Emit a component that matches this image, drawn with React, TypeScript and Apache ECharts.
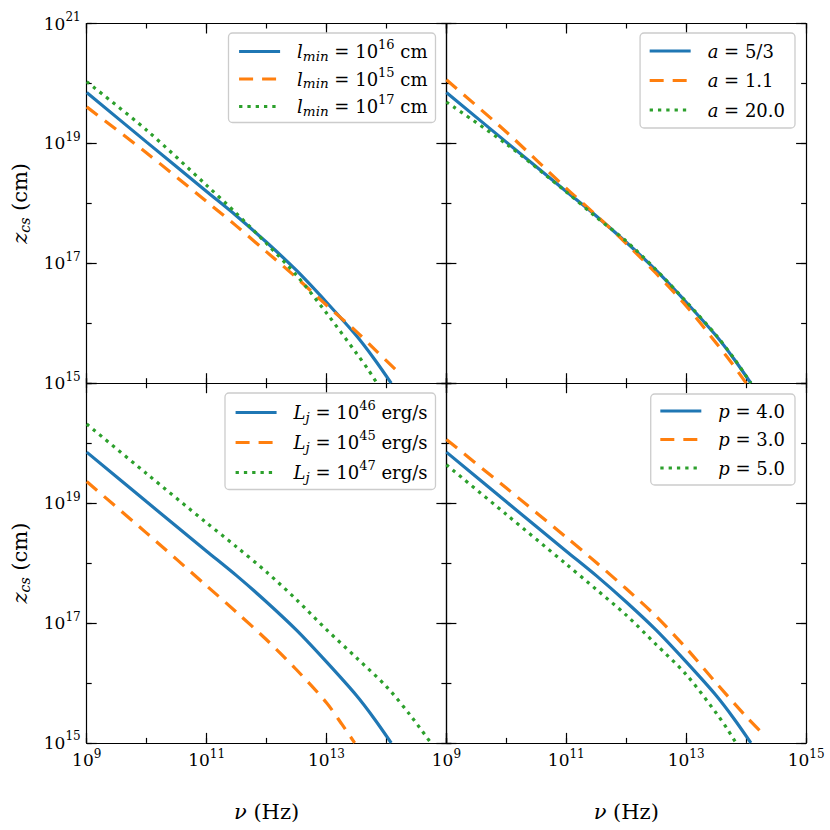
import React, { useEffect, useRef } from "react";
import * as echarts from "echarts";

// ---- axis ranges ----
const NU_MIN = 1e9;
const NU_MAX = 1e15;
const Z_MIN = 1e15;
const Z_MAX = 1e21;

// ---- tick label exponents ----
const xLabelExpLeft = [9, 11, 13];
const xLabelExpRight = [9, 11, 13, 15];
const yLabelExpTop = [15, 17, 19, 21];
const yLabelExpBottom = [15, 17, 19];

// ---- fiducial curve (blue, same in every panel) ----
const nuFid = [1e9, 1e10, 1e11, 3.16e11, 1e12, 3.16e12, 1e13, 3.16e13, 6.31e13, 1.2e14];
const zFid = [7.08e19, 1.05e19, 1.58e18, 6.17e17, 2.24e17, 7.59e16, 2.24e16, 6.17e15, 2.51e15, 1.0e15];

// ---- panel (a): l_min ----
const nuLmin15 = [1e9, 1e10, 1e11, 3.16e11, 1e12, 3.16e12, 1e13, 3.16e13, 7.08e13, 1.55e14];
const zLmin15 = [4.07e19, 6.92e18, 1.07e18, 4.17e17, 1.55e17, 5.75e16, 2.0e16, 7.24e15, 3.31e15, 1.55e15];
const nuLmin17 = [1e9, 1e10, 1e11, 3.16e11, 1e12, 3.16e12, 1e13, 3.16e13, 5.01e13, 6.92e13];
const zLmin17 = [1.07e20, 1.66e19, 2.0e18, 6.76e17, 2.14e17, 6.31e16, 1.48e16, 3.16e15, 1.66e15, 1.0e15];

// ---- panel (b): a ----
const nuA11 = [1e9, 1e10, 1e11, 3.16e11, 1e12, 3.16e12, 1e13, 3.16e13, 5.62e13, 1e14];
const zA11 = [1.15e20, 1.55e19, 1.78e18, 6.31e17, 2.14e17, 6.76e16, 1.95e16, 4.68e15, 2.24e15, 1.0e15];
const nuA20 = [1e9, 1e10, 1e11, 3.16e11, 1e12, 3.16e12, 1e13, 3.16e13, 6.31e13, 1.2e14];
const zA20 = [4.9e19, 9.77e18, 1.55e18, 5.89e17, 2.34e17, 7.76e16, 2.29e16, 6.31e15, 2.57e15, 1.0e15];

// ---- panel (c): L_j ----
const nuL45 = [1e9, 1e10, 1e11, 3.16e11, 1e12, 3.16e12, 1e13, 1.78e13, 2.95e13];
const zL45 = [2.29e19, 3.16e18, 4.17e17, 1.51e17, 5.25e16, 1.66e16, 4.68e15, 2.09e15, 1.0e15];
const nuL47 = [1e9, 1e10, 1e11, 3.16e11, 1e12, 3.16e12, 1e13, 3.16e13, 1e14, 2.51e14, 5.5e14];
const zL47 = [2.09e20, 3.09e19, 4.68e18, 1.86e18, 7.08e17, 2.45e17, 7.76e16, 2.63e16, 8.71e15, 2.88e15, 1.0e15];

// ---- panel (d): p ----
const nuP3 = [1e9, 1e10, 1e11, 3.16e11, 1e12, 3.16e12, 1e13, 3.16e13, 1e14, 2.0e14];
const zP3 = [1.15e20, 1.78e19, 2.69e18, 1.02e18, 3.72e17, 1.29e17, 3.8e16, 1.0e16, 2.75e15, 1.35e15];
const nuP5 = [1e9, 1e10, 1e11, 3.16e11, 1e12, 3.16e12, 1e13, 3.16e13, 5.01e13, 6.76e13];
const zP5 = [4.37e19, 6.46e18, 9.55e17, 3.63e17, 1.35e17, 4.37e16, 1.38e16, 3.16e15, 1.62e15, 1.0e15];

const COLORS = ["#1f77b4", "#ff7f0e", "#2ca02c"];
const DASHES: any[] = ["solid", [14, 9], [3.3, 5]];
const FONT = "DejaVu Serif";

const zip = (a: number[], b: number[]) => a.map((v, i) => [v, b[i]]);

const panels = [
  {
    left: 86.7,
    top: 23.5,
    xLabels: [] as number[],
    yLabels: yLabelExpTop,
    legend: { right: 394.5, top: 33, gap: 3, pad: [5, 8, 5, 9] },
    series: [
      { name: "lmin16", label: "{it|l}{sub|min}{n| = 10}{sup|16}{n| cm}", nu: nuFid, z: zFid },
      { name: "lmin15", label: "{it|l}{sub|min}{n| = 10}{sup|15}{n| cm}", nu: nuLmin15, z: zLmin15 },
      { name: "lmin17", label: "{it|l}{sub|min}{n| = 10}{sup|17}{n| cm}", nu: nuLmin17, z: zLmin17 },
    ],
  },
  {
    left: 446.4,
    top: 23.5,
    xLabels: [] as number[],
    yLabels: [] as number[],
    legend: { right: 35, top: 33, gap: 11.5, pad: [9, 10, 9, 8] },
    series: [
      { name: "a53", label: "{it|a}{n| = 5/3}", nu: nuFid, z: zFid },
      { name: "a11", label: "{it|a}{n| = 1.1}", nu: nuA11, z: zA11 },
      { name: "a20", label: "{it|a}{n| = 20.0}", nu: nuA20, z: zA20 },
    ],
  },
  {
    left: 86.7,
    top: 383.2,
    xLabels: xLabelExpLeft,
    yLabels: yLabelExpBottom,
    legend: { right: 394.5, top: 393, gap: 5.5, pad: [6, 8, 6, 9] },
    series: [
      { name: "L46", label: "{it|L}{sub|j}{n| = 10}{sup|46}{n| erg/s}", nu: nuFid, z: zFid },
      { name: "L45", label: "{it|L}{sub|j}{n| = 10}{sup|45}{n| erg/s}", nu: nuL45, z: zL45 },
      { name: "L47", label: "{it|L}{sub|j}{n| = 10}{sup|47}{n| erg/s}", nu: nuL47, z: zL47 },
    ],
  },
  {
    left: 446.4,
    top: 383.2,
    xLabels: xLabelExpRight,
    yLabels: [] as number[],
    legend: { right: 35, top: 394, gap: 10.5, pad: [8, 10, 8, 8] },
    series: [
      { name: "p4", label: "{it|p}{n| = 4.0}", nu: nuFid, z: zFid },
      { name: "p3", label: "{it|p}{n| = 3.0}", nu: nuP3, z: zP3 },
      { name: "p5", label: "{it|p}{n| = 5.0}", nu: nuP5, z: zP5 },
    ],
  },
];

const GW = 359.7;
const GH = 359.7;

const lineSt = { color: "#000", width: 1.2 };
const tickRich = {
  b: { fontSize: 17, fontFamily: FONT, color: "#000" },
  s: { fontSize: 12, fontFamily: FONT, color: "#000", padding: [0, 0, 13, 0] },
};
const textRich = {
  it: { fontSize: 18, fontFamily: FONT, fontStyle: "italic", color: "#000" },
  n: { fontSize: 18, fontFamily: FONT, color: "#000" },
  sub: { fontSize: 13.5, fontFamily: FONT, fontStyle: "italic", color: "#000", padding: [8, 0, 0, 0] },
  sup: { fontSize: 13, fontFamily: FONT, color: "#000", padding: [0, 0, 14, 0] },
};

function expFormatter(allowed: number[]) {
  return (v: number) => {
    const e = Math.round(Math.log10(v));
    return allowed.indexOf(e) >= 0 ? `{b|10}{s|${e}}` : "";
  };
}

function buildOption() {
  const grid: any[] = [];
  const xAxis: any[] = [];
  const yAxis: any[] = [];
  const series: any[] = [];
  const legend: any[] = [];
  const labelMap: Record<string, string> = {};

  panels.forEach((p, g) => {
    grid.push({ left: p.left, top: p.top, width: GW, height: GH, containLabel: false, outerBoundsMode: "none" });

    const common = { gridIndex: g, splitLine: { show: false }, minorTick: { show: false }, minorSplitLine: { show: false } };
    xAxis.push({
      ...common,
      type: "log",
      logBase: 10,
      position: "bottom",
      min: NU_MIN,
      max: NU_MAX,
      splitNumber: 6,
      axisLine: { show: true, onZero: false, lineStyle: lineSt },
      axisTick: { show: true, inside: true, length: 5, lineStyle: lineSt },
      axisLabel: {
        show: p.xLabels.length > 0,
        margin: 5,
        showMinLabel: true,
        showMaxLabel: true,
        fontFamily: FONT,
        formatter: expFormatter(p.xLabels),
        rich: tickRich,
      },
    });
    xAxis.push({
      ...common,
      type: "value",
      position: "bottom",
      min: 0,
      max: 6,
      interval: 2,
      axisLine: { show: false, onZero: false },
      axisTick: { show: true, inside: true, length: 10, lineStyle: lineSt },
      axisLabel: { show: false },
    });
    xAxis.push({
      ...common,
      type: "value",
      position: "top",
      min: 0,
      max: 6,
      interval: 1,
      axisLine: { show: true, onZero: false, lineStyle: lineSt },
      axisTick: { show: true, inside: true, length: 5, lineStyle: lineSt },
      axisLabel: { show: false },
    });
    xAxis.push({
      ...common,
      type: "value",
      position: "top",
      min: 0,
      max: 6,
      interval: 2,
      axisLine: { show: false, onZero: false },
      axisTick: { show: true, inside: true, length: 10, lineStyle: lineSt },
      axisLabel: { show: false },
    });
    yAxis.push({
      ...common,
      type: "log",
      logBase: 10,
      position: "left",
      min: Z_MIN,
      max: Z_MAX,
      splitNumber: 6,
      axisLine: { show: true, onZero: false, lineStyle: lineSt },
      axisTick: { show: true, inside: true, length: 5, lineStyle: lineSt },
      axisLabel: {
        show: p.yLabels.length > 0,
        margin: 6,
        showMinLabel: true,
        showMaxLabel: true,
        fontFamily: FONT,
        formatter: expFormatter(p.yLabels),
        rich: tickRich,
      },
    });
    yAxis.push({
      ...common,
      type: "value",
      position: "left",
      min: 0,
      max: 6,
      interval: 2,
      axisLine: { show: false, onZero: false },
      axisTick: { show: true, inside: true, length: 10, lineStyle: lineSt },
      axisLabel: { show: false },
    });
    yAxis.push({
      ...common,
      type: "value",
      position: "right",
      min: 0,
      max: 6,
      interval: 1,
      axisLine: { show: true, onZero: false, lineStyle: lineSt },
      axisTick: { show: true, inside: true, length: 5, lineStyle: lineSt },
      axisLabel: { show: false },
    });
    yAxis.push({
      ...common,
      type: "value",
      position: "right",
      min: 0,
      max: 6,
      interval: 2,
      axisLine: { show: false, onZero: false },
      axisTick: { show: true, inside: true, length: 10, lineStyle: lineSt },
      axisLabel: { show: false },
    });

    p.series.forEach((s, k) => {
      labelMap[s.name] = s.label;
      series.push({
        type: "line",
        name: s.name,
        xAxisIndex: 4 * g,
        yAxisIndex: 4 * g,
        data: zip(s.nu, s.z),
        symbol: "none",
        showSymbol: false,
        smooth: 0.3,
        silent: true,
        lineStyle: { color: COLORS[k], width: 3.2, type: DASHES[k], cap: "butt" },
        itemStyle: { color: COLORS[k] },
        z: 3 + k * 0.01,
      });
    });

    legend.push({
      show: true,
      orient: "vertical",
      right: p.legend.right,
      top: p.legend.top,
      data: p.series.map((s) => s.name),
      itemWidth: 41,
      itemHeight: 14,
      itemGap: p.legend.gap,
      padding: p.legend.pad,
      borderColor: "#cccccc",
      borderWidth: 1.3,
      borderRadius: 4,
      backgroundColor: "rgba(255,255,255,0.85)",
      selectedMode: false,
      lineStyle: { width: 3.2 },
      itemStyle: { color: "rgba(0,0,0,0)", borderWidth: 0, opacity: 0 },
      formatter: (n: string) => labelMap[n],
      textStyle: { fontFamily: FONT, fontSize: 18, color: "#000", padding: [0, 0, 0, 12], rich: textRich },
      z: 10,
    });
  });

  const titleRich = {
    it: { fontSize: 21, fontFamily: FONT, fontStyle: "italic", fill: "#000" },
    n: { fontSize: 21, fontFamily: FONT, fill: "#000" },
    sub: { fontSize: 14, fontFamily: FONT, fontStyle: "italic", fill: "#000", padding: [9, 0, 0, 0] },
  };
  const mkTitle = (text: string, x: number, y: number, rot: number) => ({
    type: "text",
    x,
    y,
    rotation: rot,
    style: {
      text,
      fill: "#000",
      fontSize: 21,
      fontFamily: FONT,
      align: "center",
      verticalAlign: "middle",
      textAlign: "center",
      textVerticalAlign: "middle",
      rich: titleRich,
    },
  });

  const graphic = [
    mkTitle("{it|ν}{n| (Hz)}", 86.7 + GW / 2, 812, 0),
    mkTitle("{it|ν}{n| (Hz)}", 446.4 + GW / 2, 812, 0),
    mkTitle("{it|z}{sub|cs}{n| (cm)}", 20, 23.5 + GH / 2, Math.PI / 2),
    mkTitle("{it|z}{sub|cs}{n| (cm)}", 20, 383.2 + GH / 2, Math.PI / 2),
  ];

  return {
    animation: false,
    backgroundColor: "#ffffff",
    textStyle: { fontFamily: FONT, color: "#000" },
    grid,
    xAxis,
    yAxis,
    series,
    legend,
    graphic,
  };
}

export default function App() {
  const ref = useRef<HTMLDivElement>(null);
  useEffect(() => {
    document.body.style.margin = "0";
    if (!ref.current) return;
    const chart = echarts.init(ref.current, null, { renderer: "svg" });
    chart.setOption(buildOption() as any);
    return () => chart.dispose();
  }, []);
  return <div ref={ref} style={{ width: 830, height: 830 }} />;
}
